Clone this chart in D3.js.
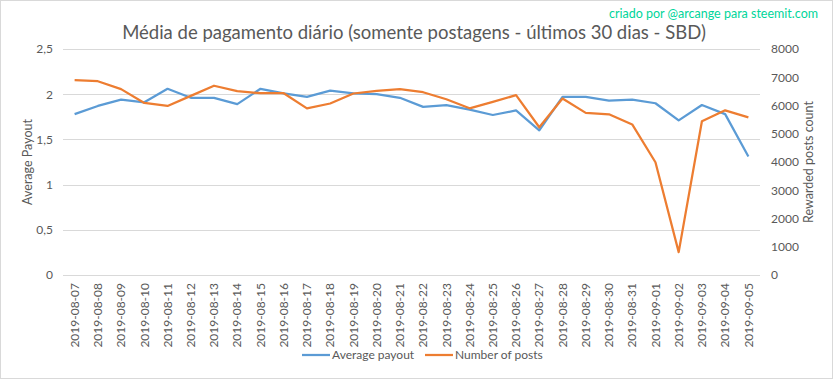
<!DOCTYPE html>
<html>
<head>
<meta charset="utf-8">
<script src="https://cdn.jsdelivr.net/npm/d3@7"></script>
<style>
  body { margin: 0; background: #fff; }
  svg { font-family: Lato, "Open Sans", sans-serif; }
</style>
</head>
<body>
<div id="chart"></div>
<script>
/* Daily payout line chart, two y axes */

const dates = ["2019-08-07","2019-08-08","2019-08-09","2019-08-10","2019-08-11","2019-08-12",
  "2019-08-13","2019-08-14","2019-08-15","2019-08-16","2019-08-17","2019-08-18","2019-08-19",
  "2019-08-20","2019-08-21","2019-08-22","2019-08-23","2019-08-24","2019-08-25","2019-08-26",
  "2019-08-27","2019-08-28","2019-08-29","2019-08-30","2019-08-31","2019-09-01","2019-09-02",
  "2019-09-03","2019-09-04","2019-09-05"];

const avgPayout = [1.78,1.87,1.94,1.91,2.06,1.96,1.96,1.89,2.06,2.01,1.97,2.04,2.01,2.00,1.96,
  1.86,1.88,1.83,1.77,1.82,1.60,1.97,1.97,1.93,1.94,1.90,1.71,1.88,1.78,1.31];

const numPosts = [6900,6860,6580,6090,5985,6340,6700,6510,6436,6436,5900,6070,6425,6520,6580,
  6470,6220,5900,6130,6365,5230,6250,5740,5690,5330,3990,810,5440,5830,5580];

const leftTicks = [0, 0.5, 1, 1.5, 2, 2.5];
const rightTicks = [0, 1000, 2000, 3000, 4000, 5000, 6000, 7000, 8000];

const width = 833, height = 379,
    margin = ({ top: 49, right: 73, bottom: 104, left: 63 });

const svg = d3.select("#chart")
    .append("svg")
    .attr("width", width)
    .attr("height", height);

svg.append("rect")
    .attr("x", 0.5).attr("y", 0.5)
    .attr("width", width - 1).attr("height", height - 1)
    .attr("fill", "#fff")
    .attr("stroke", "#d9d9d9");

let x = d3.scaleBand()
    .domain(dates)
    .range([margin.left, width - margin.right]);

let yL = d3.scaleLinear()
    .domain([0, 2.5])
    .range([height - margin.bottom, margin.top]);

let yR = d3.scaleLinear()
    .domain([0, 8000])
    .range([height - margin.bottom, margin.top]);

/* gridlines */
svg.append("g")
    .selectAll("line")
    .data(leftTicks)
    .join("line")
    .attr("x1", margin.left)
    .attr("x2", width - margin.right)
    .attr("y1", d => Math.round(yL(d)) + 0.5)
    .attr("y2", d => Math.round(yL(d)) + 0.5)
    .attr("stroke", "#d9d9d9");

/* axes */
const fmt = d3.formatLocale({ decimal: ",", thousands: ".", grouping: [3], currency: ["", ""] });

svg.append("g")
    .attr("transform", `translate(${margin.left},0)`)
    .call(d3.axisLeft(yL).tickValues(leftTicks).tickSize(0).tickPadding(10)
      .tickFormat(d => fmt.format("~g")(d)))
    .call(g => g.select(".domain").remove());

svg.append("g")
    .attr("transform", `translate(${width - margin.right},0)`)
    .call(d3.axisRight(yR).tickValues(rightTicks).tickSize(0).tickPadding(11)
      .tickFormat(d3.format("d")))
    .call(g => g.select(".domain").remove());

svg.append("g")
    .attr("transform", `translate(0,${height - margin.bottom})`)
    .call(d3.axisBottom(x).tickSize(0).tickPadding(0))
    .call(g => g.select(".domain").remove())
    .selectAll("text")
    .attr("transform", "rotate(-90)")
    .attr("text-anchor", "end")
    .attr("x", -8)
    .attr("y", 0)
    .attr("dy", "0.35em");

svg.selectAll(".tick text")
    .attr("fill", "#595959")
    .attr("font-size", 12)
    .attr("font-family", "Lato, sans-serif");

/* labels */
svg.append("text")
    .attr("x", 414)
    .attr("y", 39)
    .attr("text-anchor", "middle")
    .attr("font-size", 18.5)
    .attr("fill", "#595959")
    .text("Média de pagamento diário (somente postagens - últimos 30 dias - SBD)");

svg.append("text")
    .attr("x", 818)
    .attr("y", 18)
    .attr("text-anchor", "end")
    .attr("font-size", 12.5)
    .attr("fill", "#00d59a")
    .text("criado por @arcange para steemit.com");

svg.append("text")
    .attr("transform", `translate(32,${(margin.top + height - margin.bottom) / 2}) rotate(-90)`)
    .attr("text-anchor", "middle")
    .attr("font-size", 12.5)
    .attr("fill", "#595959")
    .text("Average Payout");

svg.append("text")
    .attr("transform", `translate(813,${(margin.top + height - margin.bottom) / 2}) rotate(-90)`)
    .attr("text-anchor", "middle")
    .attr("font-size", 12.5)
    .attr("fill", "#595959")
    .text("Rewarded posts count");

/* lines */
let cx = d => x(d) + x.bandwidth() / 2;

svg.append("path")
    .datum(avgPayout)
    .attr("d", d3.line().x((d, i) => cx(dates[i])).y(d => yL(d)))
    .attr("fill", "none")
    .attr("stroke", "#5b9bd5")
    .attr("stroke-width", 2.25)
    .attr("stroke-linejoin", "round");

svg.append("path")
    .datum(numPosts)
    .attr("d", d3.line().x((d, i) => cx(dates[i])).y(d => yR(d)))
    .attr("fill", "none")
    .attr("stroke", "#ed7d31")
    .attr("stroke-width", 2.25)
    .attr("stroke-linejoin", "round");

/* legend */
const legend = [
  { name: "Average payout", color: "#5b9bd5", x: 302 },
  { name: "Number of posts", color: "#ed7d31", x: 425 }
];

let lg = svg.append("g")
    .selectAll("g")
    .data(legend)
    .join("g")
    .attr("transform", d => `translate(${d.x},355)`);

lg.append("line")
    .attr("x1", 0).attr("x2", 28)
    .attr("stroke", d => d.color)
    .attr("stroke-width", 2.25);

lg.append("text")
    .attr("x", 30)
    .attr("dy", "0.35em")
    .attr("font-size", 12)
    .attr("fill", "#595959")
    .text(d => d.name);
</script>
</body>
</html>
